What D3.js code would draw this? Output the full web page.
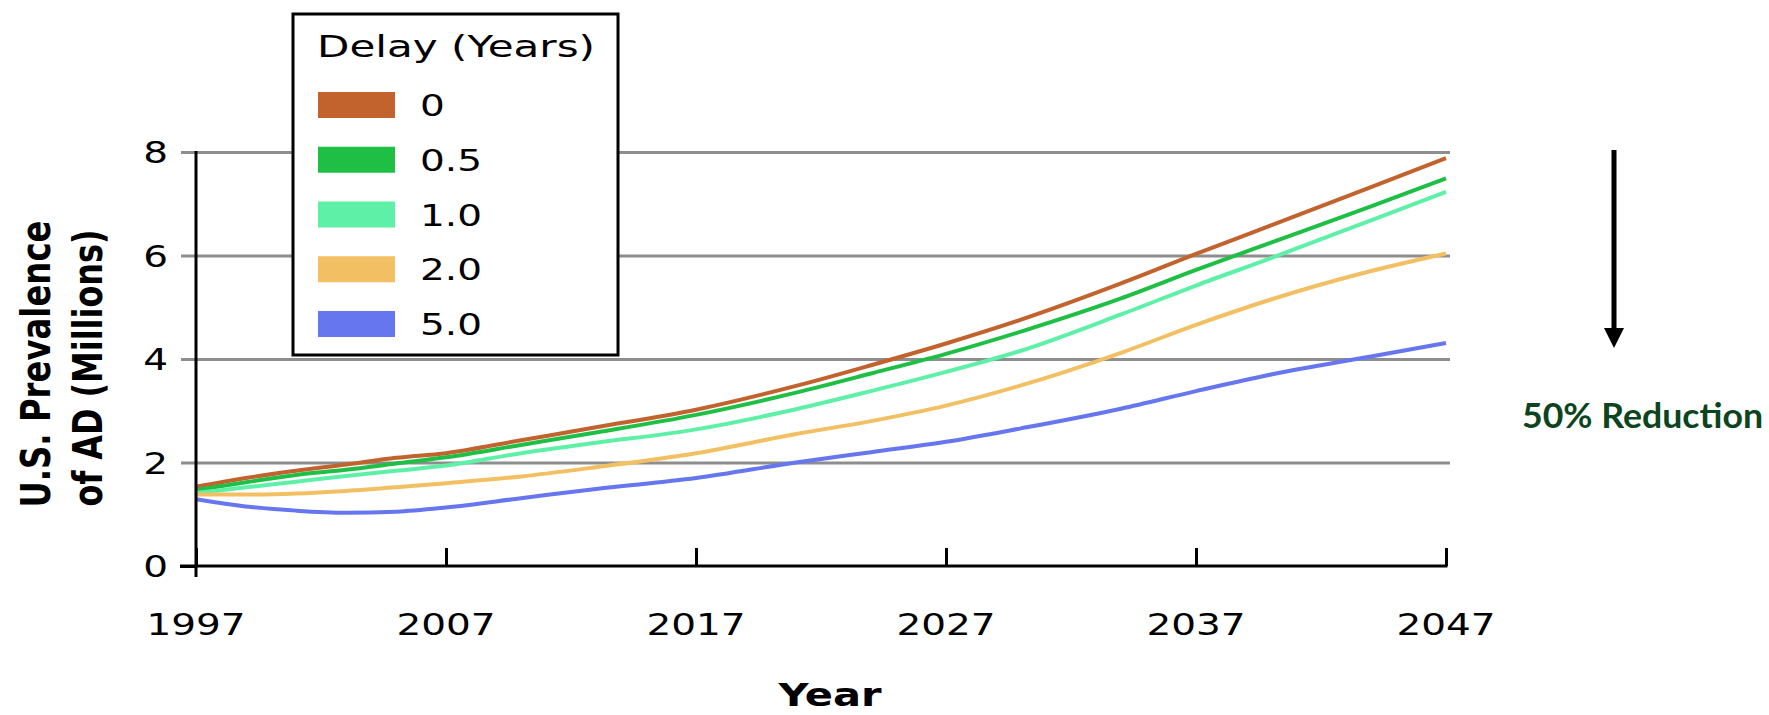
<!DOCTYPE html>
<html>
<head>
<meta charset="utf-8">
<script src="https://cdn.jsdelivr.net/npm/d3@7"></script>
<style>
  html, body { margin: 0; padding: 0; background: #fff; }
  svg { display: block; }
</style>
</head>
<body>
<svg id="chart" width="1769" height="715"></svg>
<script>
// ---- Data ----
const years = [1997, 1999, 2001, 2003, 2005, 2007, 2010, 2013, 2017, 2021, 2024, 2027, 2030, 2034, 2037, 2040, 2044, 2047];
const seriesNames = ["0", "0.5", "1.0", "2.0", "5.0"];
const delay0   = [1.53, 1.70, 1.84, 1.96, 2.09, 2.18, 2.43, 2.68, 3.02, 3.48, 3.88, 4.30, 4.76, 5.46, 6.03, 6.58, 7.32, 7.88];
const delay05  = [1.47, 1.62, 1.76, 1.86, 1.98, 2.10, 2.34, 2.58, 2.92, 3.35, 3.72, 4.10, 4.53, 5.17, 5.72, 6.25, 6.95, 7.49];
const delay1   = [1.41, 1.52, 1.63, 1.74, 1.84, 1.94, 2.18, 2.38, 2.64, 3.03, 3.38, 3.75, 4.16, 4.86, 5.42, 5.95, 6.68, 7.23];
const delay2   = [1.38, 1.38, 1.40, 1.45, 1.52, 1.60, 1.73, 1.91, 2.18, 2.55, 2.80, 3.10, 3.49, 4.12, 4.66, 5.15, 5.70, 6.04];
const delay5   = [1.29, 1.15, 1.07, 1.03, 1.05, 1.13, 1.31, 1.49, 1.70, 2.00, 2.20, 2.40, 2.66, 3.04, 3.38, 3.70, 4.05, 4.31];
const seriesValues = [delay0, delay05, delay1, delay2, delay5];
const seriesColors = ["#c2622d", "#1fbf45", "#5ff0a8", "#f2c063", "#6676ee"];
const xTicks = [1997, 2007, 2017, 2027, 2037, 2047];
const yTicks = [0, 2, 4, 6, 8];
const legendTitle = "Delay (Years)";
const yTitle1 = "U.S. Prevalence";
const yTitle2 = "of AD (Millions)";
const xTitle = "Year";
const noteText = "50% Reduction";

// ---- Layout ----
const svg = d3.select("#chart");
const SX = 1.3; // horizontal stretch of the original bitmap text
const x = d3.scaleLinear().domain([1997, 2047]).range([196, 1446]);
const y = d3.scaleLinear().domain([0, 8]).range([566, 152]);

function stretchedText(parent, tx, ty, str, o) {
  const g = parent.append("g").attr("transform", `translate(${tx},${ty}) scale(${o.sx || SX},1)` + (o.rotate ? ` rotate(${o.rotate})` : ""));
  const t = g.append("text")
    .attr("x", 0).attr("y", 0)
    .attr("font-family", o.family || "'DejaVu Sans', Verdana, sans-serif")
    .attr("font-size", o.size)
    .attr("font-weight", o.weight || "normal")
    .attr("fill", o.fill || "#000")
    .attr("text-anchor", o.anchor || "start")
    .text(str);
  if (o.len) t.attr("textLength", o.len).attr("lengthAdjust", "spacingAndGlyphs");
  return t;
}

// Gridlines (y axis ticks, extended across)
const grid = svg.append("g")
  .attr("transform", `translate(196,0)`)
  .call(d3.axisLeft(y).tickValues(yTicks.filter(d => d > 0)).tickSize(-1254).tickFormat(""));
grid.select(".domain").remove();
grid.selectAll(".tick line").attr("stroke", "#8e8e8e").attr("stroke-width", 3).attr("x1", -15).attr("x2", 1254);

// Series lines
const line = d3.line().x((d, i) => x(years[i])).y(d => y(d)).curve(d3.curveMonotoneX);
svg.append("g").selectAll("path")
  .data(seriesValues)
  .join("path")
  .attr("d", d => line(d))
  .attr("fill", "none")
  .attr("stroke", (d, i) => seriesColors[i])
  .attr("stroke-width", 4)
  .attr("stroke-linejoin", "round");

// X axis
const xAxis = svg.append("g")
  .attr("transform", `translate(0,${y(0)})`)
  .call(d3.axisTop(x).tickValues(xTicks).tickSize(18).tickFormat(""));
xAxis.select(".domain").attr("stroke", "#000").attr("stroke-width", 3).attr("d", `M180,0H${x(2047) + 1.5}`);
xAxis.selectAll(".tick line").attr("stroke", "#000").attr("stroke-width", 3);
xTicks.forEach(t => {
  stretchedText(svg, x(t), 635, String(t), { size: 30, anchor: "middle" });
});

// Y axis
const yAxis = svg.append("g")
  .attr("transform", `translate(196,0)`)
  .call(d3.axisLeft(y).tickValues([0]).tickSize(16).tickFormat(""));
yAxis.select(".domain").attr("stroke", "#000").attr("stroke-width", 3).attr("d", `M0,${y(8) - 1}V577`);
yAxis.selectAll(".tick line").attr("stroke", "#000").attr("stroke-width", 3);
yTicks.forEach(t => {
  stretchedText(svg, 168, y(t) + 11, String(t), { size: 30, anchor: "end" });
});

// Axis titles
stretchedText(svg, 50, 364, yTitle1, { size: 31, weight: "bold", anchor: "middle", rotate: -90, len: 287 });
stretchedText(svg, 102, 368, yTitle2, { size: 31, weight: "bold", anchor: "middle", rotate: -90, len: 277 });
stretchedText(svg, 830, 706, xTitle, { size: 32, weight: "bold", anchor: "middle" });

// Legend
const lg = svg.append("g");
lg.append("rect").attr("x", 293).attr("y", 14).attr("width", 325).attr("height", 341)
  .attr("fill", "#fff").attr("stroke", "#000").attr("stroke-width", 3);
stretchedText(lg, 317, 57, legendTitle, { size: 30, len: 278 / SX });
const legendY = d3.scalePoint().domain(seriesNames).range([105, 324]);
seriesNames.forEach((n, i) => {
  const cy = legendY(n);
  lg.append("rect").attr("x", 318).attr("y", cy - 13).attr("width", 77).attr("height", 26)
    .attr("fill", seriesColors[i]);
  stretchedText(lg, 420, cy + 11, n, { size: 30 });
});

// Arrow and note
const ann = svg.append("g");
ann.append("line").attr("x1", 1614).attr("x2", 1614).attr("y1", 150).attr("y2", 332)
  .attr("stroke", "#000").attr("stroke-width", 5);
ann.append("path").attr("d", "M1604,328L1624,328L1614,348Z").attr("fill", "#000");
ann.append("text").attr("x", 1522).attr("y", 428)
  .attr("font-family", "Lato, 'Open Sans', sans-serif").attr("font-weight", "bold")
  .attr("font-size", 35).attr("fill", "#0d4420")
  .attr("textLength", 241).attr("lengthAdjust", "spacingAndGlyphs")
  .text(noteText);
</script>
</body>
</html>
